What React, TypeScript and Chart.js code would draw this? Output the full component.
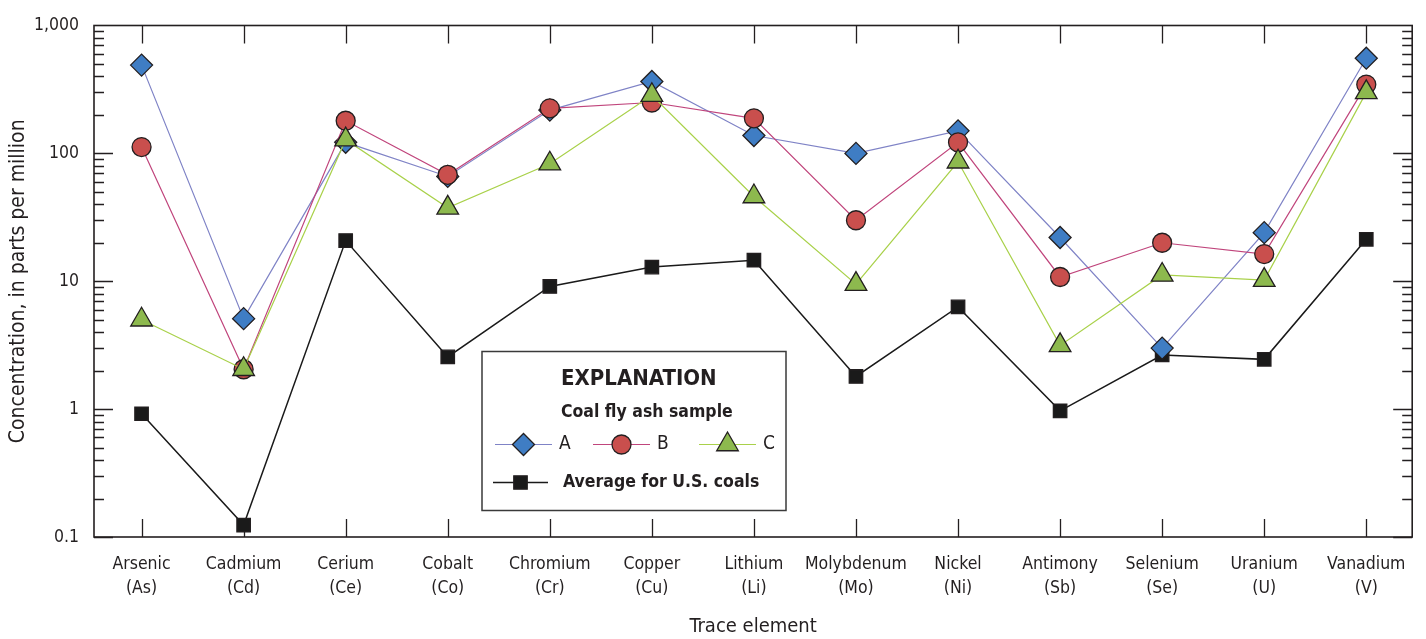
import React, { useEffect, useRef } from "react";
import { Chart, registerables } from "chart.js";
import { drawPoint } from "chart.js/helpers";

Chart.register(...registerables);

// ---------- data ----------
const elementNames = [
  "Arsenic", "Cadmium", "Cerium", "Cobalt", "Chromium", "Copper", "Lithium",
  "Molybdenum", "Nickel", "Antimony", "Selenium", "Uranium", "Vanadium",
];
const elementSymbols = ["As", "Cd", "Ce", "Co", "Cr", "Cu", "Li", "Mo", "Ni", "Sb", "Se", "U", "V"];

const sampleA = [490, 5.1, 122, 66, 218, 365, 138, 100, 150, 22, 3.0, 24, 555];
const sampleB = [112, 2.05, 180, 68, 225, 250, 188, 30, 122, 10.8, 20, 16.3, 345];
const sampleC = [5.0, 2.05, 128, 37.5, 83, 285, 46, 9.5, 86, 3.15, 11.2, 10.2, 300];
const usCoalAverage = [0.92, 0.124, 20.8, 2.56, 9.1, 12.9, 14.6, 1.8, 6.3, 0.97, 2.65, 2.45, 21.3];

const yTickValues = [0.1, 1, 10, 100, 1000];
const yTickLabels = ["0.1", "1", "10", "100", "1,000"];

const seriesLabels = ["A", "B", "C"];
const averageLabel = "Average for U.S. coals";
const legendTitle = "EXPLANATION";
const legendSubtitle = "Coal fly ash sample";
const yTitle = "Concentration, in parts per million";
const xTitle = "Trace element";

// ---------- styles ----------
const FONT = "'Liberation Sans Narrow', 'DejaVu Sans Condensed', 'Arial Narrow', sans-serif";
const TEXT = "#231f20";
const EDGE = "#231f20";

const styleA = { line: "#7f83c6", fill: "#3f7dc4", shape: "rectRot", radius: 11 };
const styleB = { line: "#c0457c", fill: "#c94f4d", shape: "circle", radius: 9.5 };
const styleC = { line: "#a9d14a", fill: "#8db94e", shape: "triangle", radius: 12.5 };
const styleAvg = { line: "#1a1a1a", fill: "#1a1a1a", shape: "rect", radius: 9.5 };

const toPoints = (vals: number[]) => vals.map((v, i) => ({ x: i, y: v }));

const frameTicks = {
  id: "frameTicks",
  beforeDatasetsDraw(chart: any) {
    const { ctx, chartArea, scales } = chart;
    const { left, right, top, bottom } = chartArea;
    const x = scales.x;
    const y = scales.y;
    ctx.save();
    ctx.strokeStyle = EDGE;
    ctx.lineWidth = 1.3;
    ctx.beginPath();
    elementNames.forEach((_, i) => {
      const px = Math.round(x.getPixelForValue(i)) + 0.5;
      ctx.moveTo(px, top);
      ctx.lineTo(px, top + 18);
      ctx.moveTo(px, bottom);
      ctx.lineTo(px, bottom - 18);
    });
    for (let d = -1; d < 3; d++) {
      for (let m = 1; m <= 9; m++) {
        const v = m * Math.pow(10, d);
        const py = Math.round(y.getPixelForValue(v)) + 0.5;
        const len = m === 1 ? 19 : 10;
        ctx.moveTo(left, py);
        ctx.lineTo(left + len, py);
        ctx.moveTo(right, py);
        ctx.lineTo(right - len, py);
      }
    }
    ctx.stroke();
    ctx.lineWidth = 1.6;
    ctx.strokeRect(left, top, right - left, bottom - top);
    ctx.restore();
  },
};

function legendMarker(ctx: CanvasRenderingContext2D, st: any, x1: number, x2: number, cy: number, lw: number) {
  ctx.strokeStyle = st.line;
  ctx.lineWidth = lw;
  ctx.beginPath();
  ctx.moveTo(x1, cy);
  ctx.lineTo(x2, cy);
  ctx.stroke();
  ctx.fillStyle = st.fill;
  ctx.strokeStyle = EDGE;
  ctx.lineWidth = 1.3;
  drawPoint(ctx, { pointStyle: st.shape, radius: st.radius, rotation: 0, borderWidth: 1.3 } as any, (x1 + x2) / 2, cy);
}

const explanation = {
  id: "explanation",
  afterDraw(chart: any) {
    const { ctx, chartArea } = chart;
    const bx = chartArea.left + 388;
    const by = chartArea.top + 326;
    const bw = 304;
    const bh = 159;
    ctx.save();
    ctx.fillStyle = "#ffffff";
    ctx.fillRect(bx, by, bw, bh);
    ctx.strokeStyle = "#3a3a3a";
    ctx.lineWidth = 1.5;
    ctx.strokeRect(bx, by, bw, bh);

    ctx.fillStyle = TEXT;
    ctx.textBaseline = "middle";
    ctx.textAlign = "left";
    ctx.font = `bold 22px ${FONT}`;
    ctx.fillText(legendTitle, bx + 79, by + 28);
    ctx.font = `bold 17.5px ${FONT}`;
    ctx.fillText(legendSubtitle, bx + 79, by + 61);

    const rowY = by + 93;
    const styles = [styleA, styleB, styleC];
    const starts = [13, 111, 217];
    styles.forEach((st, i) => {
      const x1 = bx + starts[i];
      legendMarker(ctx, st, x1, x1 + 57, rowY, 1.2);
      ctx.fillStyle = TEXT;
      ctx.font = `19px ${FONT}`;
      ctx.fillText(seriesLabels[i], x1 + 64, rowY);
    });

    const row2 = by + 131;
    legendMarker(ctx, styleAvg, bx + 11, bx + 66, row2, 1.5);
    ctx.fillStyle = TEXT;
    ctx.font = `bold 17.5px ${FONT}`;
    ctx.fillText(averageLabel, bx + 81, row2);
    ctx.restore();
  },
};

function dataset(label: string, vals: number[], st: any, order: number, lw: number) {
  return {
    label,
    data: toPoints(vals),
    borderColor: st.line,
    borderWidth: lw,
    pointStyle: st.shape,
    pointRadius: st.radius,
    pointBackgroundColor: st.fill,
    pointBorderColor: EDGE,
    pointBorderWidth: 1.3,
    fill: false,
    tension: 0,
    order,
  };
}

export default function App() {
  const canvasRef = useRef<HTMLCanvasElement | null>(null);

  useEffect(() => {
    document.body.style.margin = "0";
    const canvas = canvasRef.current;
    if (!canvas) return;
    const chart = new Chart(canvas, {
      type: "line",
      data: {
        datasets: [
          dataset(seriesLabels[0], sampleA, styleA, 2, 1.2),
          dataset(seriesLabels[1], sampleB, styleB, 1, 1.2),
          dataset(seriesLabels[2], sampleC, styleC, 0, 1.2),
          dataset(averageLabel, usCoalAverage, styleAvg, 3, 1.5),
        ] as any,
      },
      options: {
        animation: false,
        responsive: false,
        maintainAspectRatio: false,
        events: [],
        layout: { padding: { left: 0, top: 23, right: 10, bottom: 0 } },
        plugins: {
          legend: { display: false },
          tooltip: { enabled: false },
        },
        scales: {
          x: {
            type: "linear",
            min: -0.466,
            max: 12.45,
            grid: { display: false, drawTicks: false },
            border: { display: false },
            afterBuildTicks: (s: any) => {
              s.ticks = elementNames.map((_, i) => ({ value: i }));
            },
            afterFit: (s: any) => {
              s.height = 102;
            },
            ticks: {
              autoSkip: false,
              maxRotation: 0,
              minRotation: 0,
              padding: 15,
              color: TEXT,
              font: { family: FONT, size: 17.5, lineHeight: 1.4 },
              callback: (v: any) => {
                const i = Math.round(Number(v));
                return [elementNames[i], `(${elementSymbols[i]})`];
              },
            },
            title: {
              display: true,
              text: xTitle,
              color: TEXT,
              font: { family: FONT, size: 20 },
              padding: { top: 0, bottom: 0 },
            },
          },
          y: {
            type: "logarithmic",
            min: 0.1,
            max: 1000,
            grid: { display: false, drawTicks: false },
            border: { display: false },
            afterBuildTicks: (s: any) => {
              s.ticks = yTickValues.map((v) => ({ value: v }));
            },
            afterFit: (s: any) => {
              s.width = 94;
            },
            ticks: {
              padding: 15,
              color: TEXT,
              font: { family: FONT, size: 17.5 },
              callback: (v: any) => {
                const n = Number(v);
                const i = yTickValues.findIndex((t) => Math.abs(t - n) / t < 1e-6);
                return i >= 0 ? yTickLabels[i] : "";
              },
            },
            title: {
              display: true,
              text: yTitle,
              color: TEXT,
              font: { family: FONT, size: 21 },
              padding: { top: 6, bottom: 0 },
            },
          },
        },
      },
      plugins: [frameTicks, explanation],
    });
    return () => chart.destroy();
  }, []);

  return (
    <div style={{ width: 1426, height: 639, background: "#ffffff" }}>
      <canvas ref={canvasRef} width={1426} height={639} style={{ display: "block" }} />
    </div>
  );
}
